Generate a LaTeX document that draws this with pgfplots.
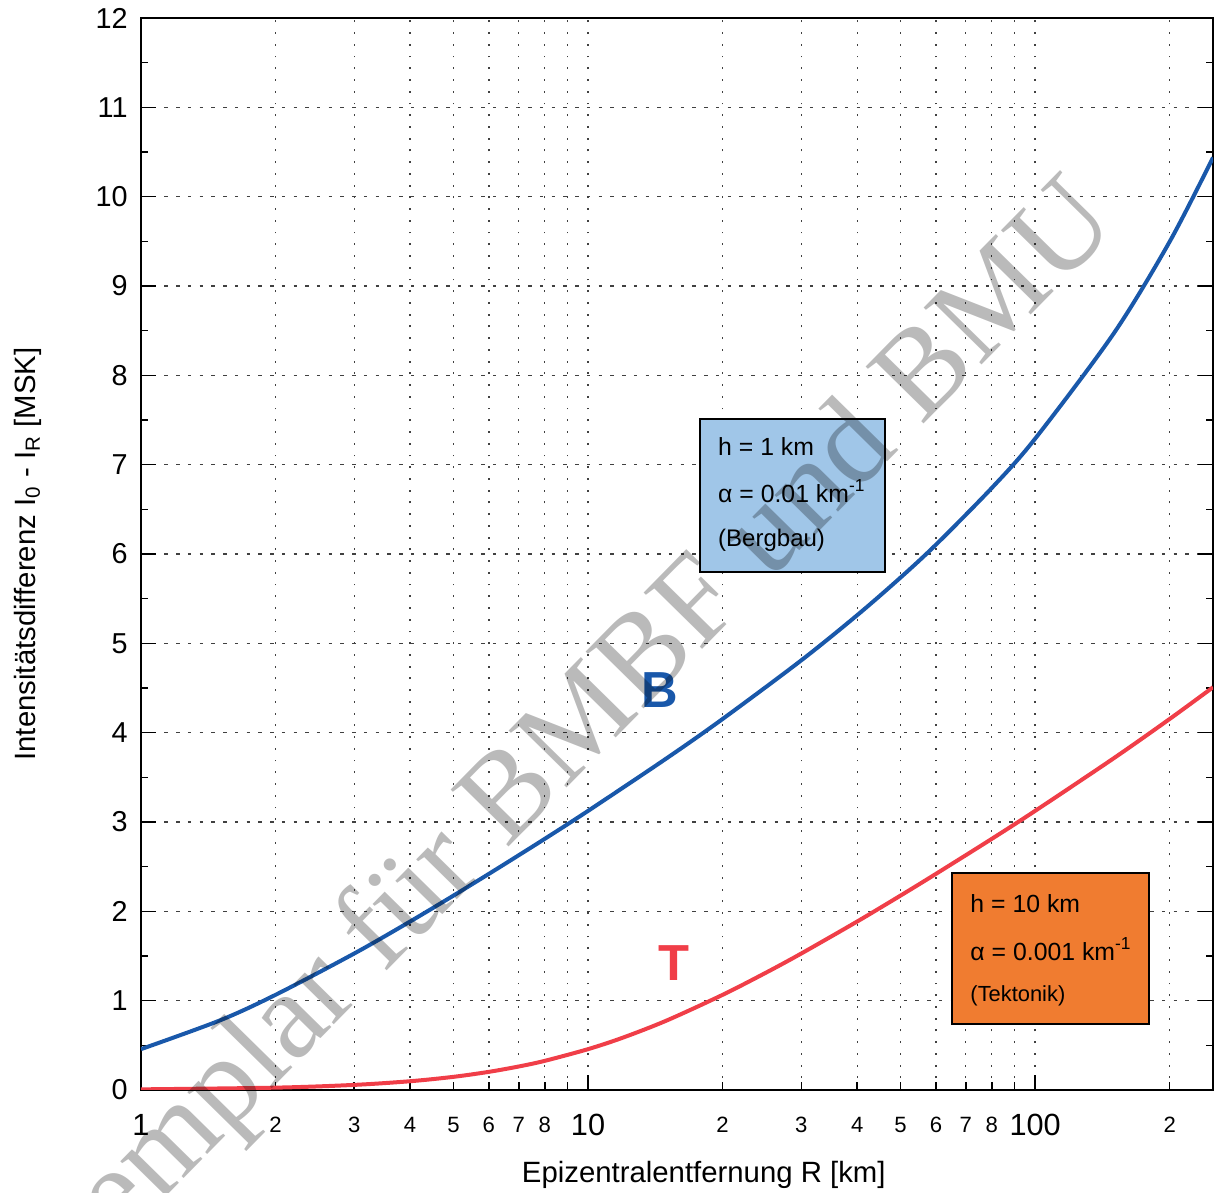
\documentclass[border=0pt]{standalone}
\usepackage{pgfplots}
\pgfplotsset{compat=1.18}
\usepackage{fontspec}
\setmainfont{Liberation Sans}
\newfontfamily\wmfont{Liberation Serif}
\definecolor{curveB}{RGB}{25,88,170}
\definecolor{curveT}{RGB}{240,62,72}
\definecolor{boxB}{RGB}{160,198,232}
\definecolor{boxT}{RGB}{240,124,48}
\begin{document}
\begin{tikzpicture}
\useasboundingbox (-52.875pt,-38.625pt) rectangle (403.125pt,408.75pt);
\begin{axis}[
  at={(0pt,0pt)}, anchor=south west,
  scale only axis, width=402pt, height=402pt,
  xmode=log, log basis x=10,
  xmin=1, xmax=250, ymin=0, ymax=12,
  /pgf/number format/assume math mode=true,
  axis line style={line width=0.9pt},
  tick align=inside,
  xtick pos=bottom, ytick pos=both,
  tick style={black, line width=0.6pt},
  major tick length=5.6pt, minor tick length=2.6pt,
  xtick={1,10,100}, xticklabels={1,10,100},
  xminorticks=false,
  extra x ticks={2,3,4,5,6,7,8,9,20,30,40,50,60,70,80,90,200},
  extra x tick labels={2,3,4,5,6,7,8,{},2,3,4,5,6,7,8,{},2},
  extra x tick style={major tick length=3pt, grid=major,
    xticklabel style={font=\fontsize{8.3}{9}\selectfont}},
  xticklabel style={font=\fontsize{11.5}{12}\selectfont, anchor=center, yshift=-13pt},
  ytick={0,1,...,12}, minor y tick num=1,
  yticklabel style={font=\fontsize{10.8}{12}\selectfont, xshift=-1.5pt},
  xmajorgrids, ymajorgrids,
  major x grid style={black!75, line width=0.5pt, dash pattern=on 0.7pt off 3.7pt},
  major y grid style={black!75, line width=0.5pt, dash pattern=on 1.3pt off 3.1pt},
  xlabel={Epizentralentfernung R [km]},
  xlabel style={font=\fontsize{11}{12}\selectfont, at={(axis description cs:0.525,0)}, anchor=center, yshift=-32pt},
  ylabel={Intensitätsdifferenz I\textsubscript{0} - I\textsubscript{R} [MSK]},
  ylabel style={font=\fontsize{11}{12}\selectfont, at={(axis description cs:-0.1055,0.5)}, anchor=center},
  clip=true,
]
% B: h = 1 km, alpha = 0.01 1/km (Bergbau)
\addplot[curveB, line width=1.5pt, smooth] coordinates {
  (1,0.457) (1.5,0.778) (2,1.065) (3,1.528) (4,1.886) (5,2.176) (6,2.419)
  (7,2.628) (8,2.811) (10,3.124) (15,3.714) (20,4.153) (30,4.810)
  (40,5.315) (50,5.736) (60,6.104) (80,6.739) (100,7.290) (150,8.470)
  (200,9.496) (250,10.438)};
% T: h = 10 km, alpha = 0.001 1/km (Tektonik)
\addplot[curveT, line width=1.5pt, smooth] coordinates {
  (1,0.007) (2,0.026) (3,0.057) (4,0.098) (5,0.147) (6,0.203) (7,0.263)
  (8,0.326) (10,0.457) (12,0.588) (15,0.778) (20,1.065) (25,1.313)
  (30,1.528) (40,1.886) (50,2.176) (60,2.419) (80,2.811) (100,3.124)
  (150,3.714) (200,4.153) (250,4.508)};

\draw[fill=boxB, line width=0.8pt] (axis cs:17.8,5.80) rectangle (axis cs:46.2,7.51);
\node[anchor=base west, font=\fontsize{9.3}{10}\selectfont, inner sep=0pt] at (axis cs:19.5,7.10) {h = 1 km};
\node[anchor=base west, font=\fontsize{9.3}{10}\selectfont, inner sep=0pt] at (axis cs:19.5,6.58) {α = 0.01 km\textsuperscript{-1}};
\node[anchor=base west, font=\fontsize{9}{10}\selectfont, inner sep=0pt] at (axis cs:19.5,6.08) {(Bergbau)};

\draw[fill=boxT, line width=0.8pt] (axis cs:65.2,0.739) rectangle (axis cs:179.9,2.43);
\node[anchor=base west, font=\fontsize{9.3}{10}\selectfont, inner sep=0pt] at (axis cs:71.5,1.99) {h = 10 km};
\node[anchor=base west, font=\fontsize{9.3}{10}\selectfont, inner sep=0pt] at (axis cs:71.5,1.455) {α = 0.001 km\textsuperscript{-1}};
\node[anchor=base west, font=\fontsize{8.2}{10}\selectfont, inner sep=0pt] at (axis cs:71.5,0.985) {(Tektonik)};

\node[curveB, font=\fontsize{19}{20}\selectfont\bfseries, inner sep=0pt] at (axis cs:14.5,4.48) {B};
\node[curveT, font=\fontsize{19}{20}\selectfont\bfseries, inner sep=0pt] at (axis cs:15.57,1.42) {T};
\end{axis}
\node[rotate=45.5, anchor=base, text=black, text opacity=0.27, inner sep=0pt,
  font=\fontsize{46.5}{50}\wmfont] at (161.6pt,115.1pt) {Exemplar für BMBF und BMU};
\end{tikzpicture}
\end{document}
